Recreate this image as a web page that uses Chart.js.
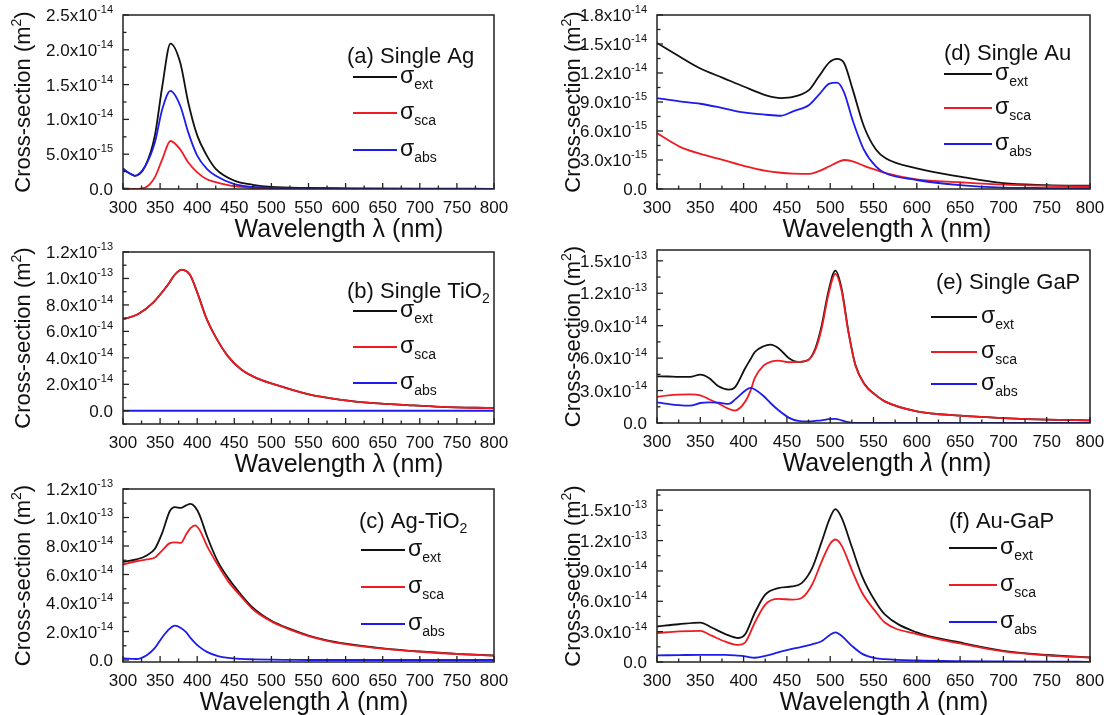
<!DOCTYPE html>
<html>
<head>
<meta charset="utf-8">
<script src="https://cdn.jsdelivr.net/npm/chart.js@4.4.1/dist/chart.umd.min.js"></script>
<style>
    html, body { margin: 0; padding: 0; background: #fff; }
    #wrap { position: relative; width: 1112px; height: 715px; }
    #wrap canvas { position: absolute; left: 0; top: 0; }
</style>
</head>
<body>
<div id="wrap">
    <canvas id="pa" width="1112" height="715"></canvas>
    <canvas id="pb" width="1112" height="715"></canvas>
    <canvas id="pc" width="1112" height="715"></canvas>
    <canvas id="pd" width="1112" height="715"></canvas>
    <canvas id="pe" width="1112" height="715"></canvas>
    <canvas id="pf" width="1112" height="715"></canvas>
</div>
<script>
// wavelengths in nm, cross-sections in units of the panel's tick exponent

// (a) Single Ag, x1e-14 m^2
const wlA = [300, 308, 316, 330, 343, 353, 364, 377, 388, 400, 413, 425, 450, 475, 500, 550, 600, 700, 800];
const aExt = [0.29, 0.23, 0.19, 0.33, 0.77, 1.48, 2.09, 1.82, 1.24, 0.77, 0.48, 0.29, 0.12, 0.06, 0.03, 0.015, 0.01, 0.005, 0.003];
const aSca = [0.01, 0.005, 0.0, 0.02, 0.17, 0.43, 0.69, 0.57, 0.38, 0.24, 0.14, 0.10, 0.04, 0.015, 0.005, 0.002, 0.001, 0, 0];
const aAbs = [0.29, 0.23, 0.19, 0.33, 0.67, 1.15, 1.41, 1.20, 0.81, 0.48, 0.29, 0.19, 0.07, 0.03, 0.015, 0.008, 0.005, 0.003, 0.002];

// (b) Single TiO2, x1e-14 m^2
const wlB = [300, 320, 341, 361, 370, 379, 390, 401, 412, 424, 441, 459, 480, 504, 549, 594, 638, 683, 728, 800];
const bExt = [6.92, 7.3, 8.2, 9.56, 10.3, 10.65, 10.3, 8.8, 7.04, 5.66, 4.15, 3.14, 2.47, 2.0, 1.26, 0.83, 0.58, 0.43, 0.3, 0.2];
const bSca = [6.92, 7.3, 8.2, 9.56, 10.3, 10.65, 10.3, 8.8, 7.04, 5.66, 4.15, 3.14, 2.47, 2.0, 1.26, 0.83, 0.58, 0.43, 0.3, 0.2];
const bAbs = [0, 0, 0, 0, 0, 0, 0, 0, 0, 0, 0, 0, 0, 0, 0, 0, 0, 0, 0, 0];

// (c) Ag-TiO2, x1e-14 m^2
const wlC = [300, 318, 332, 343, 353, 363, 370, 378, 385, 391, 397, 403, 413, 428, 442, 459, 475, 500, 525, 550, 575, 600, 650, 700, 750, 800];
const cExt = [6.88, 7.06, 7.34, 7.8, 8.94, 10.44, 10.73, 10.67, 10.85, 10.95, 10.75, 10.2, 8.72, 6.88, 5.73, 4.59, 3.67, 2.75, 2.18, 1.72, 1.38, 1.15, 0.82, 0.6, 0.43, 0.32];
const cSca = [6.7, 6.93, 7.06, 7.2, 7.7, 8.2, 8.26, 8.22, 8.8, 9.25, 9.45, 9.15, 8.03, 6.65, 5.5, 4.47, 3.56, 2.7, 2.13, 1.68, 1.35, 1.12, 0.8, 0.58, 0.42, 0.31];
const cAbs = [0.11, 0.07, 0.34, 0.85, 1.6, 2.2, 2.41, 2.25, 1.95, 1.55, 1.2, 0.92, 0.57, 0.28, 0.15, 0.08, 0.05, 0.02, 0.01, 0, 0, 0, 0, 0, 0, 0];

// (d) Single Au, x1e-15 m^2
const wlD = [300, 326, 350, 376, 400, 426, 443, 457, 476, 487, 499, 508, 516, 526, 539, 553, 564, 600, 650, 700, 750, 800];
const dExt = [15.1, 13.7, 12.46, 11.5, 10.6, 9.69, 9.41, 9.52, 10.28, 11.66, 13.1, 13.46, 13.04, 10.28, 6.47, 4.05, 3.18, 2.14, 1.28, 0.6, 0.41, 0.34];
const dSca = [5.78, 4.39, 3.63, 3.01, 2.39, 1.87, 1.68, 1.6, 1.56, 1.85, 2.35, 2.75, 3.0, 2.85, 2.4, 1.97, 1.63, 1.0, 0.7, 0.45, 0.33, 0.26];
const dAbs = [9.41, 9.07, 8.82, 8.37, 7.92, 7.68, 7.58, 8.03, 8.72, 9.76, 10.9, 11.0, 10.0, 7.1, 4.05, 2.32, 1.63, 0.93, 0.4, 0.15, 0.1, 0.08];

// (e) Single GaP, x1e-14 m^2
const wlE = [300, 313, 325, 338, 350, 360, 371, 383, 390, 402, 408, 413, 423, 431, 440, 452, 463, 475, 483, 490, 498, 506, 513, 521, 529, 540, 552, 563, 600, 650, 700, 750, 800];
const eExt = [4.32, 4.3, 4.26, 4.26, 4.48, 4.17, 3.4, 3.09, 3.3, 5.09, 5.9, 6.57, 7.1, 7.25, 6.94, 6.02, 5.65, 5.86, 6.94, 8.95, 12.19, 14.1, 12.5, 8.49, 5.4, 3.55, 2.62, 2.0, 1.08, 0.68, 0.46, 0.31, 0.25];
const eSca = [2.41, 2.55, 2.62, 2.65, 2.56, 2.2, 1.8, 1.3, 1.15, 2.0, 3.0, 4.17, 5.3, 5.65, 5.77, 5.62, 5.65, 5.86, 6.8, 8.7, 11.9, 13.8, 12.3, 8.4, 5.35, 3.52, 2.6, 2.0, 1.08, 0.68, 0.46, 0.31, 0.25];
const eAbs = [1.91, 1.76, 1.65, 1.6, 1.85, 1.9, 1.88, 1.76, 2.16, 3.0, 3.24, 3.1, 2.5, 1.85, 1.2, 0.5, 0.2, 0.15, 0.2, 0.25, 0.35, 0.38, 0.25, 0.08, 0, 0, 0, 0, 0, 0, 0, 0, 0];

// (f) Au-GaP, x1e-14 m^2
const wlF = [300, 325, 350, 363, 379, 394, 402, 413, 425, 440, 456, 467, 479, 490, 500, 506, 513, 525, 537, 552, 563, 600, 650, 700, 750, 800];
const fExt = [3.51, 3.73, 3.9, 3.41, 2.76, 2.37, 2.76, 4.87, 6.66, 7.31, 7.47, 7.79, 9.25, 11.85, 14.29, 15.1, 14.29, 11.36, 8.44, 6.0, 4.71, 2.92, 1.93, 1.11, 0.69, 0.46];
const fSca = [2.86, 3.02, 3.08, 2.6, 2.01, 1.69, 1.95, 3.9, 5.68, 6.23, 6.17, 6.33, 7.63, 9.9, 11.69, 12.11, 11.53, 9.09, 6.82, 5.03, 3.9, 2.75, 1.84, 1.05, 0.66, 0.44];
const fAbs = [0.65, 0.68, 0.71, 0.71, 0.71, 0.62, 0.55, 0.42, 0.6, 0.95, 1.3, 1.5, 1.75, 2.05, 2.7, 2.92, 2.6, 1.6, 0.8, 0.38, 0.28, 0.15, 0.08, 0.05, 0.03, 0.02];

// tick values and labels
const xTicks = [300, 350, 400, 450, 500, 550, 600, 650, 700, 750, 800];
const yTicksA = [0, 0.5, 1.0, 1.5, 2.0, 2.5];
const yLabelsA = ["0.0", "5.0x10^-15", "1.0x10^-14", "1.5x10^-14", "2.0x10^-14", "2.5x10^-14"];
const yTicksBC = [0, 2, 4, 6, 8, 10, 12];
const yLabelsBC = ["0.0", "2.0x10^-14", "4.0x10^-14", "6.0x10^-14", "8.0x10^-14", "1.0x10^-13", "1.2x10^-13"];
const yTicksD = [0, 3, 6, 9, 12, 15, 18];
const yLabelsD = ["0.0", "3.0x10^-15", "6.0x10^-15", "9.0x10^-15", "1.2x10^-14", "1.5x10^-14", "1.8x10^-14"];
const yTicksEF = [0, 3, 6, 9, 12, 15];
const yLabelsEF = ["0.0", "3.0x10^-14", "6.0x10^-14", "9.0x10^-14", "1.2x10^-13", "1.5x10^-13"];

const panelNames = [["(a) Single Ag", ""], ["(b) Single TiO", "2"], ["(c) Ag-TiO", "2"],
                    ["(d) Single Au", ""], ["(e) Single GaP", ""], ["(f) Au-GaP", ""]];
const seriesNames = ["ext", "sca", "abs"];

const W = 1112, H = 715;
const FONT = '"Liberation Sans", Arial, Helvetica, sans-serif';
const BLACK = '#111111', RED = '#ee1c22', BLUE = '#1c1cee';

const panels = [
    { id: 'pa', wl: wlA, ext: aExt, sca: aSca, abs: aAbs, yMin: 0, yMax: 2.5, ticks: yTicksA, labels: yLabelsA, minor: 0.25, name: panelNames[0], italic: false },
    { id: 'pb', wl: wlB, ext: bExt, sca: bSca, abs: bAbs, yMin: -1, yMax: 12, ticks: yTicksBC, labels: yLabelsBC, minor: 1, name: panelNames[1], italic: false },
    { id: 'pc', wl: wlC, ext: cExt, sca: cSca, abs: cAbs, yMin: -0.14, yMax: 12, ticks: yTicksBC, labels: yLabelsBC, minor: 1, name: panelNames[2], italic: true },
    { id: 'pd', wl: wlD, ext: dExt, sca: dSca, abs: dAbs, yMin: 0, yMax: 18, ticks: yTicksD, labels: yLabelsD, minor: 1.5, name: panelNames[3], italic: false },
    { id: 'pe', wl: wlE, ext: eExt, sca: eSca, abs: eAbs, yMin: 0, yMax: 16, ticks: yTicksEF, labels: yLabelsEF, minor: 1.5, name: panelNames[4], italic: true },
    { id: 'pf', wl: wlF, ext: fExt, sca: fSca, abs: fAbs, yMin: 0, yMax: 17, ticks: yTicksEF, labels: yLabelsEF, minor: 1.5, name: panelNames[5], italic: true }
];

// plot boxes [left, top, right, bottom], x-title centre, legend placement
const boxes = {
    pa: [123, 15, 494, 189], pb: [123, 252, 494, 424], pc: [123, 489, 494, 662],
    pd: [657, 15, 1090, 189], pe: [657, 250, 1090, 423], pf: [657, 490, 1090, 662]
};
const titleX = { pa: 339, pb: 339, pc: 304, pd: 887, pe: 887, pf: 884 };
const legends = {
    pa: { lx: 347, ly: 55, x1: 353, x2: 397, sx: 400, rows: [77, 113, 150] },
    pb: { lx: 347, ly: 290, x1: 353, x2: 397, sx: 400, rows: [311, 347, 383] },
    pc: { lx: 359, ly: 520, x1: 361, x2: 405, sx: 408, rows: [550, 587, 624] },
    pd: { lx: 944, ly: 52, x1: 944, x2: 992, sx: 995, rows: [74, 108, 144] },
    pe: { lx: 936, ly: 281, x1: 931, x2: 977, sx: 981, rows: [317, 352, 384] },
    pf: { lx: 949, ly: 520, x1: 949, x2: 997, sx: 1000, rows: [548, 585, 622] }
};

function fontOf(s) {
    return (s.italic ? 'italic ' : '') + s.size + 'px ' + FONT;
}

function drawRich(ctx, segs, x, y, align) {
    let w = 0;
    segs.forEach(s => { ctx.font = fontOf(s); s.w = ctx.measureText(s.text).width; w += s.w; });
    let cx = align === 'right' ? x - w : align === 'center' ? x - w / 2 : x;
    ctx.textAlign = 'left';
    ctx.textBaseline = 'alphabetic';
    segs.forEach(s => {
        ctx.font = fontOf(s);
        ctx.fillText(s.text, cx, y - (s.rise || 0));
        cx += s.w;
    });
}

function makeDecor(p) {
    return {
        id: 'decor_' + p.id,
        afterDraw(chart) {
            const ctx = chart.ctx;
            const a = chart.chartArea;
            const xs = chart.scales.x, ys = chart.scales.y;
            ctx.save();
            ctx.fillStyle = '#111';
            ctx.strokeStyle = '#222';

            // frame
            ctx.lineWidth = 1.5;
            ctx.strokeRect(a.left, a.top, a.right - a.left, a.bottom - a.top);

            // x ticks (inward), majors every 50, minors every 25
            ctx.lineWidth = 1.3;
            for (let v = 300; v <= 800; v += 25) {
                const px = xs.getPixelForValue(v);
                const len = v % 50 === 0 ? 6 : 3.5;
                ctx.beginPath();
                ctx.moveTo(px, a.bottom);
                ctx.lineTo(px, a.bottom - len);
                ctx.stroke();
            }
            xTicks.forEach(v => {
                drawRich(ctx, [{ text: String(v), size: 17 }], xs.getPixelForValue(v), a.bottom + 24, 'center');
            });

            // y ticks
            for (let v = Math.ceil(p.yMin / p.minor) * p.minor; v <= p.yMax + 1e-9; v += p.minor) {
                const py = ys.getPixelForValue(v);
                const major = p.ticks.some(t => Math.abs(t - v) < 1e-6);
                ctx.beginPath();
                ctx.moveTo(a.left, py);
                ctx.lineTo(a.left + (major ? 6 : 3.5), py);
                ctx.stroke();
            }
            p.ticks.forEach((v, i) => {
                const parts = p.labels[i].split('^');
                const segs = [{ text: parts[0], size: 17 }];
                if (parts[1]) segs.push({ text: parts[1], size: 11, rise: 8 });
                drawRich(ctx, segs, a.left - 10, ys.getPixelForValue(v) + 6, 'right');
            });

            // axis titles
            drawRich(ctx, [{ text: 'Wavelength ', size: 25 }, { text: 'λ', size: 25, italic: p.italic }, { text: ' (nm)', size: 25 }],
                titleX[p.id], a.bottom + 48, 'center');
            ctx.save();
            const tx = a.left < 400 ? 22 : 572;
            ctx.translate(tx + 8, (a.top + a.bottom) / 2);
            ctx.rotate(-Math.PI / 2);
            drawRich(ctx, [{ text: 'Cross-section (m', size: 22 }, { text: '2', size: 14, rise: 9 }, { text: ')', size: 22 }], 0, 0, 'center');
            ctx.restore();

            // panel name and legend
            const lg = legends[p.id];
            const nameSegs = [{ text: p.name[0], size: 22 }];
            if (p.name[1]) nameSegs.push({ text: p.name[1], size: 14, rise: -5 });
            drawRich(ctx, nameSegs, lg.lx, lg.ly + 8, 'left');
            const cols = [BLACK, RED, BLUE];
            lg.rows.forEach((ry, i) => {
                ctx.strokeStyle = cols[i];
                ctx.lineWidth = 2;
                ctx.beginPath();
                ctx.moveTo(lg.x1, ry);
                ctx.lineTo(lg.x2, ry);
                ctx.stroke();
                drawRich(ctx, [{ text: 'σ', size: 23 }, { text: seriesNames[i], size: 14, rise: -6 }], lg.sx, ry + 6, 'left');
            });
            ctx.restore();
        }
    };
}

function toXY(xv, yv) {
    return xv.map((x, i) => ({ x: x, y: yv[i] }));
}

panels.forEach(p => {
    const b = boxes[p.id];
    new Chart(document.getElementById(p.id), {
        type: 'line',
        data: {
            datasets: [
                { label: 'abs', data: toXY(p.wl, p.abs), borderColor: BLUE, order: 0 },
                { label: 'sca', data: toXY(p.wl, p.sca), borderColor: RED, order: 1 },
                { label: 'ext', data: toXY(p.wl, p.ext), borderColor: BLACK, order: 2 }
            ]
        },
        options: {
            responsive: false,
            animation: false,
            events: [],
            layout: { padding: { left: b[0], top: b[1], right: W - b[2], bottom: H - b[3] } },
            elements: {
                point: { radius: 0 },
                line: { borderWidth: 1.8, cubicInterpolationMode: 'monotone', fill: false }
            },
            plugins: { legend: { display: false }, tooltip: { enabled: false } },
            scales: {
                x: { type: 'linear', min: 300, max: 800, display: false },
                y: { type: 'linear', min: p.yMin, max: p.yMax, display: false }
            }
        },
        plugins: [makeDecor(p)]
    });
});
</script>
</body>
</html>
